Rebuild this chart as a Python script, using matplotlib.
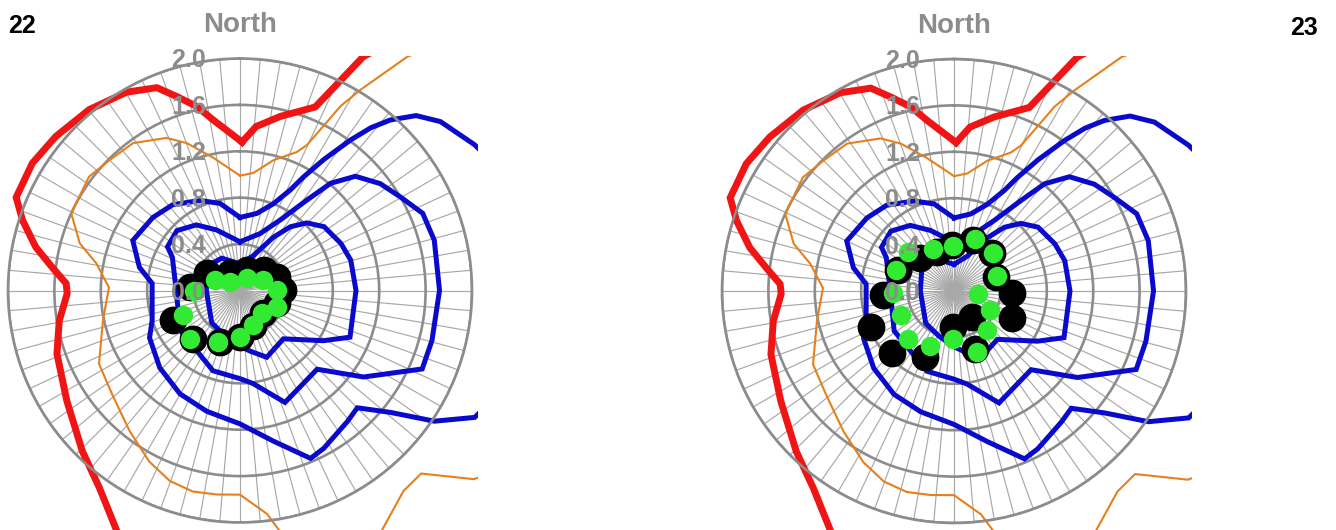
import numpy as np
import matplotlib
matplotlib.use("Agg")
import matplotlib.pyplot as plt
from matplotlib.patches import Rectangle
from matplotlib.transforms import offset_copy

plt.rcParams["font.family"] = ["Liberation Sans", "DejaVu Sans"]

# radial scale and category spokes (bearing in degrees, clockwise from north)
ring_values = [0.4, 0.8, 1.2, 1.6, 2.0]
label_values = [0.0, 0.4, 0.8, 1.2, 1.6, 2.0]
tick_labels = ["0.0", "0.4", "0.8", "1.2", "1.6", "2.0"]
spoke_angles = np.arange(0, 360, 5)
top_label = "North"

# contour lines, same in both panels
red_theta = [0.8, 5.6, 13.0, 22.3, 27.8, 35, 45, 60, 90, 120, 135, 150, 180,
             200, 207.1, 215.4, 224.5, 237.5, 250.9, 260.5, 269.0, 272.3,
             277.0, 282.0, 287.9, 292.6, 301.5, 309.9, 320.2, 330.2, 337.7,
             341.9, 346.8, 351.0, 360.8]
red_r = [1.28, 1.42, 1.54, 1.71, 2.28, 2.8, 3.4, 3.2, 3.0, 3.4, 3.6, 3.4, 3.0,
         2.6, 2.33, 2.09, 1.94, 1.77, 1.67, 1.58, 1.49, 1.50,
         1.63, 1.80, 1.97, 2.09, 2.10, 2.07, 2.03, 1.97, 1.89,
         1.76, 1.63, 1.49, 1.28]

orange_theta = [0, 6.5, 14.4, 22.3, 24.7, 26.9, 28.6, 31.0, 35.6, 45, 70, 100,
                120, 128.9, 135.3, 140.8, 149.7, 160, 170.5, 173.1, 180, 186.5,
                193.2, 200.2, 207.9, 218.2, 230.9, 242.5, 257.6, 271.3, 280.7,
                286.4, 294.6, 307.0, 315.0, 324.0, 334.3, 340.2, 348.5, 360]
orange_r = [0.99, 1.02, 1.16, 1.29, 1.38, 1.59, 1.81, 2.02, 2.48, 3.3, 3.0, 2.8,
            2.9, 2.59, 2.22, 2.23, 2.41, 2.6, 2.11, 1.94, 1.76, 1.77,
            1.78, 1.75, 1.67, 1.54, 1.42, 1.37, 1.21, 1.13, 1.26,
            1.44, 1.60, 1.63, 1.59, 1.57, 1.46, 1.35, 1.17, 0.99]

blue_outer_theta = [0, 12.3, 21.0, 26.6, 29.2, 32.6, 36.3, 38.8, 41.4, 45.2,
                    49.9, 58.1, 75, 100, 118.4, 123.9, 129.0, 135.0, 140.6,
                    152.0, 157.2, 167.5, 180, 195.4, 210.2, 226.1, 242.4,
                    251.2, 274.6, 283.0, 295.0, 310.0, 321.8, 336.0, 347.1, 360]
blue_outer_r = [0.63, 0.68, 0.80, 0.97, 1.12, 1.34, 1.61, 1.80, 1.96, 2.14,
                2.26, 2.38, 2.7, 2.7, 2.30, 2.02, 1.67, 1.43, 1.46,
                1.54, 1.57, 1.33, 1.15, 1.08, 1.03, 0.96, 0.88,
                0.80, 0.76, 0.89, 1.02, 0.98, 0.94, 0.85, 0.77, 0.63]

blue_mid_theta = [0, 19.4, 29.7, 36.5, 40.2, 45.3, 52.7, 59.7, 67.1, 75.5, 90,
                  104.6, 113.3, 125.0, 135.6, 158.1, 172.0, 180, 198.6, 236.3,
                  270, 296.2, 301.1, 313.5, 326.3, 338.8, 360]
blue_mid_r = [0.42, 0.52, 0.70, 0.97, 1.21, 1.40, 1.52, 1.60, 1.71, 1.73, 1.72,
              1.71, 1.71, 1.30, 0.95, 1.04, 0.81, 0.76, 0.73, 0.62,
              0.55, 0.65, 0.73, 0.75, 0.68, 0.56, 0.42]

blue_inner_theta = [0, 20.8, 32.0, 38.3, 44.7, 52.8, 65.0, 74.7, 90, 113.0,
                    121.0, 138.1, 158.2, 170.5, 180, 198.4, 221.2, 270, 308,
                    330.6, 360]
blue_inner_r = [0.23, 0.32, 0.54, 0.70, 0.82, 0.91, 0.96, 0.99, 1.00, 1.03,
                0.84, 0.56, 0.62, 0.53, 0.48, 0.41, 0.37, 0.29, 0.35,
                0.32, 0.23]

# panel 22 markers
black22_theta = [246.1, 224.3, 201.3, 180, 159.8, 134.4, 109.2, 89.3, 69.4,
                 48.7, 18.1, 329.8, 297.3, 274.3]
black22_r = [0.63, 0.58, 0.475, 0.40, 0.33, 0.28, 0.335, 0.375, 0.34,
             0.27, 0.19, 0.17, 0.32, 0.43]
green22_theta = [246.6, 226.3, 203, 180, 158.9, 136.4, 113.8, 89.2, 65.7,
                 28.8, 311.3, 292.8, 269.4]
green22_r = [0.535, 0.60, 0.48, 0.40, 0.32, 0.27, 0.35, 0.32, 0.22,
             0.12, 0.115, 0.235, 0.40]

# panel 23 markers
black23_theta = [246.6, 225, 203.8, 266.8, 290.7, 313.9, 336.2, 357.1, 20.7,
                 45, 70.8, 92.3, 115.3, 145.4, 159.9, 181.1]
black23_r = [0.78, 0.76, 0.62, 0.61, 0.52, 0.41, 0.37, 0.40, 0.47,
             0.46, 0.38, 0.50, 0.55, 0.27, 0.53, 0.31]
green23_theta = [310.7, 333.6, 358.3, 22.1, 45.7, 70.3, 97, 117.8, 139.5,
                 159.5, 181.6, 203.3, 224, 245.3, 267.8, 290.1]
green23_r = [0.52, 0.40, 0.39, 0.48, 0.47, 0.39, 0.21, 0.35, 0.44,
             0.56, 0.41, 0.52, 0.57, 0.50, 0.53, 0.53]

GRAY = "#8c8c8c"

fig = plt.figure(figsize=(13.36, 5.30), dpi=100)


def draw_panel(rect, black_theta, black_r, green_theta, green_r):
    ax = fig.add_axes(rect, projection="polar")
    ax.set_theta_zero_location("N")
    ax.set_theta_direction(-1)
    ax.set_ylim(0, 2.0)
    ax.set_axisbelow(True)
    ax.set_rgrids(ring_values, labels=[""] * len(ring_values))
    ax.set_thetagrids(spoke_angles, labels=[""] * len(spoke_angles))
    ax.tick_params(length=0)
    ax.yaxis.grid(True, color=GRAY, lw=1.9)
    ax.xaxis.grid(True, color="#a8a8a8", lw=0.85)
    ax.spines["polar"].set_color(GRAY)
    ax.spines["polar"].set_linewidth(1.9)

    # contours run past the outer ring, cut off at the plot rectangle
    box = Rectangle((-0.012, -0.05), 1.024, 1.056, transform=ax.transAxes)
    series = [
        (orange_theta, orange_r, "#e5801c", 1.5),
        (red_theta, red_r, "#f01414", 5.0),
        (blue_outer_theta, blue_outer_r, "#0a0acc", 3.6),
        (blue_mid_theta, blue_mid_r, "#0a0acc", 3.6),
        (blue_inner_theta, blue_inner_r, "#0a0acc", 3.6),
    ]
    for th, r, c, lw in series:
        ln, = ax.plot(np.deg2rad(th), r, color=c, lw=lw, zorder=2,
                      solid_joinstyle="miter")
        ln.set_clip_path(box)

    ax.plot(np.deg2rad(black_theta), black_r, "o", ls="none", ms=19,
            mfc="black", mec="black", zorder=3)
    ax.plot(np.deg2rad(green_theta), green_r, "o", ls="none", ms=13,
            mfc="#33ea33", mec="#33ea33", zorder=4)

    lab_tr = offset_copy(ax.transData, x=-34, y=-9, units="dots")
    for v, s in zip(label_values, tick_labels):
        ax.text(0, v, s, transform=lab_tr, ha="right", va="baseline",
                fontsize=18, fontweight="bold", color=GRAY, zorder=10)
    top_tr = offset_copy(ax.transData, x=0, y=26, units="dots")
    ax.text(0, 2.0, top_label, transform=top_tr, ha="center", va="baseline",
            fontsize=20, fontweight="bold", color=GRAY, zorder=10)
    return ax


W, H = 1336, 530
half = 232
draw_panel([(240 - half) / W, (H - 290.5 - half) / H, 2 * half / W, 2 * half / H],
           black22_theta, black22_r, green22_theta, green22_r)
draw_panel([(954 - half) / W, (H - 291 - half) / H, 2 * half / W, 2 * half / H],
           black23_theta, black23_r, green23_theta, green23_r)

fig.text(8 / W, 1 - 33 / H, "22", ha="left", va="baseline", fontsize=18,
         fontweight="bold", color="black")
fig.text(1290 / W, 1 - 35 / H, "23", ha="left", va="baseline", fontsize=18,
         fontweight="bold", color="black")

fig.savefig("out.png", dpi=100, facecolor="white")
